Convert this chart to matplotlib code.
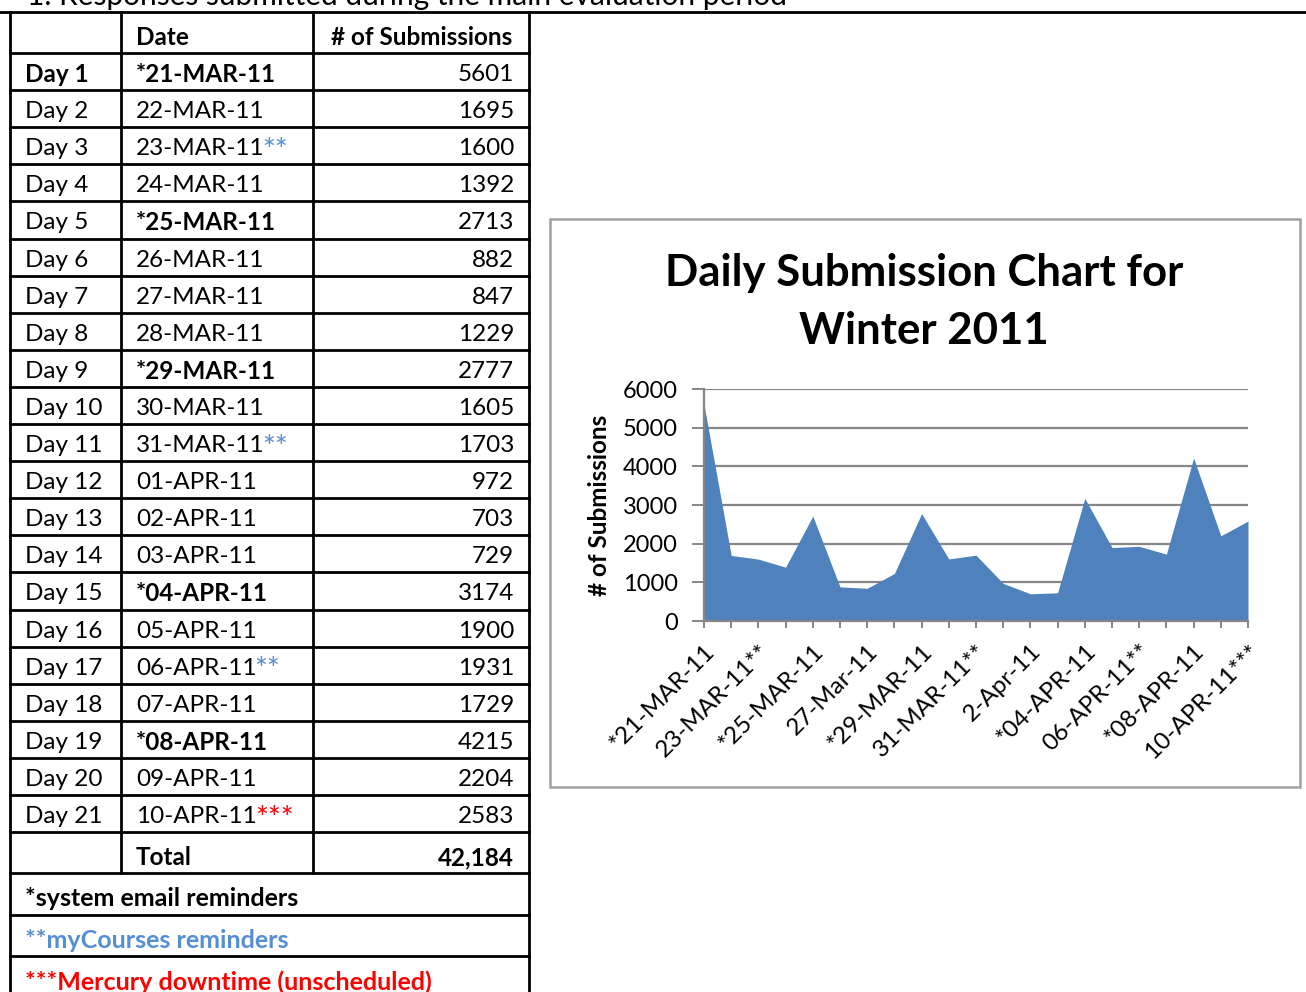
import matplotlib
matplotlib.use('Agg')
import matplotlib.pyplot as plt
from matplotlib.lines import Line2D
from matplotlib.patches import Rectangle

plt.rcParams['font.family'] = ['Lato', 'DejaVu Sans']

W, H = 1306, 992

# table data
days = ['Day %d' % i for i in range(1, 22)]
dates = ['*21-MAR-11', '22-MAR-11', '23-MAR-11', '24-MAR-11', '*25-MAR-11',
         '26-MAR-11', '27-MAR-11', '28-MAR-11', '*29-MAR-11', '30-MAR-11',
         '31-MAR-11', '01-APR-11', '02-APR-11', '03-APR-11', '*04-APR-11',
         '05-APR-11', '06-APR-11', '07-APR-11', '*08-APR-11', '09-APR-11',
         '10-APR-11']
marks = ['', '', '**', '', '', '', '', '', '', '', '**', '', '', '', '',
         '', '**', '', '', '', '***']
submissions = [5601, 1695, 1600, 1392, 2713, 882, 847, 1229, 2777, 1605,
               1703, 972, 703, 729, 3174, 1900, 1931, 1729, 4215, 2204, 2583]
total_label = '42,184'
notes = ['*system email reminders', '**myCourses reminders',
         '***Mercury downtime (unscheduled)']

# chart category labels (only every second one is shown)
chart_labels = ['*21-MAR-11', '22-MAR-11', '23-MAR-11**', '24-MAR-11',
                '*25-MAR-11', '26-MAR-11', '27-Mar-11', '28-Mar-11',
                '*29-MAR-11', '30-MAR-11', '31-MAR-11**', '1-Apr-11',
                '2-Apr-11', '03-APR-11', '*04-APR-11', '05-APR-11',
                '06-APR-11**', '07-APR-11', '*08-APR-11', '09-APR-11',
                '10-APR-11***']

BLUE_TXT = '#558ED5'
RED_TXT = '#FF0000'
mark_colors = {'**': BLUE_TXT, '***': RED_TXT}

fig = plt.figure(figsize=(W / 100, H / 100), dpi=100)
bg = fig.add_axes([0, 0, 1, 1])
bg.set_xlim(0, W)
bg.set_ylim(H, 0)
bg.axis('off')

# cut-off heading
bg.text(27, 5, '1. Responses submitted during the main evaluation period',
        fontsize=21.5, va='baseline', ha='left')

# table grid
col_x = [10, 121, 313, 529]
head_top, head_bot = 12, 53
row_h = 37.1
rows_y = [head_bot + i * row_h for i in range(22)]
total_bot = 873
note_y = [total_bot, 915, 956, 998]
lw = 2.0


def hline(y, x0=col_x[0], x1=col_x[-1]):
    bg.add_line(Line2D([x0, x1], [y, y], color='black', lw=lw))


def vline(x, y0, y1):
    bg.add_line(Line2D([x, x], [y0, y1], color='black', lw=lw))


hline(head_top, 0, W)
for y in [head_bot] + rows_y[1:] + note_y[:-1]:
    hline(y)
vline(col_x[0], head_top, H + 5)
vline(col_x[-1], head_top, H + 5)
for x in col_x[1:3]:
    vline(x, head_top, total_bot)

fs = 17.5
yh = (head_top + head_bot) / 2 + 5
bg.text(136, yh, 'Date', fontsize=fs, fontweight='bold', va='center')
bg.text(512, yh, '# of Submissions', fontsize=fs, fontweight='bold',
        va='center', ha='right')

renderer = fig.canvas.get_renderer()
inv = bg.transData.inverted()

for i in range(21):
    yc = rows_y[i] + row_h / 2 + 3
    wgt = 'bold' if dates[i].startswith('*') else 'normal'
    bg.text(25, yc, days[i], fontsize=fs, va='center',
            fontweight='bold' if i == 0 else 'normal')
    t = bg.text(136, yc, dates[i], fontsize=fs, va='center', fontweight=wgt)
    if marks[i]:
        bb = t.get_window_extent(renderer)
        xe = inv.transform((bb.x1, bb.y0))[0]
        bg.text(xe - 2, yc + 2, marks[i], fontsize=22,
                color=mark_colors[marks[i]], va='center')
    bg.text(514, yc, str(submissions[i]), fontsize=fs, va='center',
            ha='right')

yt = (rows_y[21] + total_bot) / 2 + 5
bg.text(136, yt, 'Total', fontsize=fs, fontweight='bold', va='center')
bg.text(514, yt, total_label, fontsize=fs, fontweight='bold', va='center',
        ha='right')
for k, (txt, col) in enumerate(zip(notes, ['black', BLUE_TXT, RED_TXT])):
    bg.text(25, (note_y[k] + note_y[k + 1]) / 2 + 5, txt, fontsize=18,
            fontweight='bold', color=col, va='center')

# chart frame
bg.add_patch(Rectangle((550, 219), 750, 568, fill=False,
                       edgecolor='#A0A0A0', lw=1.8))
bg.text(924, 273, 'Daily Submission Chart for', fontsize=31.5,
        fontweight='bold', ha='center', va='center')
bg.text(924, 331, 'Winter 2011', fontsize=31.5, fontweight='bold',
        ha='center', va='center')

# chart axes
x0, x1, ytop, ybot = 704, 1248, 389, 621
ax = fig.add_axes([x0 / W, 1 - ybot / H, (x1 - x0) / W, (ybot - ytop) / H])
xs = list(range(len(submissions)))
ax.fill_between(xs, submissions, 0, color='#4F81BD', lw=0, zorder=2)
ax.set_xlim(0, len(submissions) - 1)
ax.set_ylim(0, 6000)
ax.set_yticks(range(0, 6001, 1000))
ax.yaxis.grid(True, color='#868686', lw=1.6, zorder=1)
ax.set_axisbelow(True)
ax.set_xticks(xs)
ax.set_xticklabels([lab if i % 2 == 0 else '' for i, lab in
                    enumerate(chart_labels)], rotation=45, ha='right',
                   rotation_mode='anchor', fontsize=17.5)
ax.tick_params(axis='x', length=5, width=1.4, color='#868686', pad=9)
ax.tick_params(axis='y', length=9, width=1.4, color='#868686',
               labelsize=17, pad=10)
for s in ['top', 'right']:
    ax.spines[s].set_visible(False)
for s in ['left', 'bottom']:
    ax.spines[s].set_color('#868686')
    ax.spines[s].set_linewidth(1.6)
ax.set_ylabel('# of Submissions', fontsize=17.5, fontweight='bold',
              labelpad=8)
ax.patch.set_alpha(0)

fig.savefig('out.png', dpi=100)
